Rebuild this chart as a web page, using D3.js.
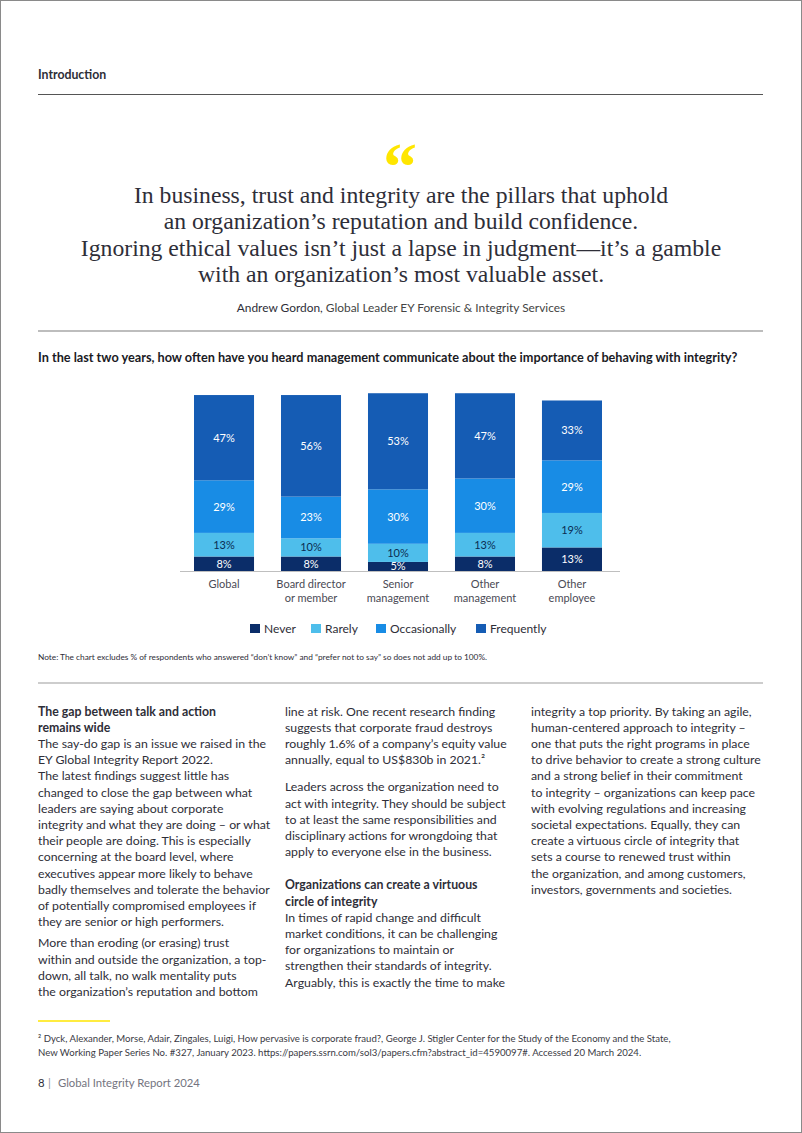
<!DOCTYPE html>
<html><head><meta charset="utf-8">
<script src="https://cdn.jsdelivr.net/npm/d3@7"></script>
<style>
html,body{margin:0;padding:0;background:#fff;}
svg{display:block;}
</style></head>
<body>
<svg id="page" width="802" height="1133"></svg>
<script>
// ---------- DATA ----------
const categories = ["Global", "Board director|or member", "Senior|management", "Other|management", "Other|employee"];
const never        = [8, 8, 5, 8, 13];
const rarely       = [13, 10, 10, 13, 19];
const occasionally = [29, 23, 30, 30, 29];
const frequently   = [47, 56, 53, 47, 33];
const seriesNames  = ["Never", "Rarely", "Occasionally", "Frequently"];
const seriesColors = ["#0b2d69", "#4ebeeb", "#188ce5", "#155cb4"];
const labelColors  = ["#ffffff", "#0b2d52", "#ffffff", "#ffffff"];

const quoteLines = [
  "In business, trust and integrity are the pillars that uphold",
  "an organization\u2019s reputation and build confidence.",
  "Ignoring ethical values isn\u2019t just a lapse in judgment\u2014it\u2019s a gamble",
  "with an organization\u2019s most valuable asset."
];
const chartTitle = "In the last two years, how often have you heard management communicate about the importance of behaving with integrity?";
const noteText = "Note: The chart excludes % of respondents who answered \u201cdon\u2019t know\u201d and \u201cprefer not to say\u201d so does not add up to 100%.";

const col1 = [
  {b:true, lines:["The gap between talk and action","remains wide"]},
  {lines:["The say-do gap is an issue we raised in the","EY Global Integrity Report 2022.","The latest findings suggest little has","changed to close the gap between what","leaders are saying about corporate","integrity and what they are doing \u2013 or what","their people are doing. This is especially","concerning at the board level, where","executives appear more likely to behave","badly themselves and tolerate the behavior","of potentially compromised employees if","they are senior or high performers."]},
  {gap:5, lines:["More than eroding (or erasing) trust","within and outside the organization, a top-","down, all talk, no walk mentality puts","the organization\u2019s reputation and bottom"]}
];
const col2 = [
  {lines:["line at risk. One recent research finding","suggests that corporate fraud destroys","roughly 1.6% of a company\u2019s equity value","annually, equal to US$830b in 2021.\u00b2"]},
  {gap:11, lines:["Leaders across the organization need to","act with integrity. They should be subject","to at least the same responsibilities and","disciplinary actions for wrongdoing that","apply to everyone else in the business."]},
  {gap:17, b:true, lines:["Organizations can create a virtuous","circle of integrity"]},
  {lines:["In times of rapid change and difficult","market conditions, it can be challenging","for organizations to maintain or","strengthen their standards of integrity.","Arguably, this is exactly the time to make"]}
];
const col3 = [
  {lines:["integrity a top priority. By taking an agile,","human-centered approach to integrity \u2013","one that puts the right programs in place","to drive behavior to create a strong culture","and a strong belief in their commitment","to integrity \u2013 organizations can keep pace","with evolving regulations and increasing","societal expectations. Equally, they can","create a virtuous circle of integrity that","sets a course to renewed trust within","the organization, and among customers,","investors, governments and societies."]}
];
const footnotes = [
  "\u00b2 Dyck, Alexander, Morse, Adair, Zingales, Luigi, How pervasive is corporate fraud?, George J. Stigler Center for the Study of the Economy and the State,",
  "New Working Paper Series No. #327, January 2023.  https://papers.ssrn.com/sol3/papers.cfm?abstract_id=4590097#. Accessed 20 March 2024."
];

// ---------- DRAW ----------
const svg = d3.select("#page");
const SANS = "Lato, 'Liberation Sans', Arial, sans-serif";
const SERIF = "'Liberation Serif', 'DejaVu Serif', serif";

svg.append("rect").attr("x",0.5).attr("y",0.5).attr("width",801).attr("height",1132)
  .attr("fill","#fff").attr("stroke","#8a8a8a").attr("stroke-width",1);

// header
svg.append("text").attr("x",38).attr("y",79).attr("font-family",SANS).attr("font-weight",700)
  .attr("font-size",12.3).attr("fill","#2e2e38").text("Introduction");
svg.append("line").attr("x1",38).attr("x2",763).attr("y1",94.5).attr("y2",94.5).attr("stroke","#555").attr("stroke-width",1.2);

// quote
svg.append("text").attr("x",400).attr("y",190).attr("text-anchor","middle").attr("font-family",SERIF)
  .attr("font-size",68).attr("font-weight",700).attr("fill","#ffe600").text("\u201c");
svg.append("g").selectAll("text").data(quoteLines).join("text")
  .attr("x",401).attr("y",(d,i)=>202.5 + i*26.5).attr("text-anchor","middle")
  .attr("font-family",SERIF).attr("font-size",23.7).attr("fill","#2e2e38").text(d=>d);
const attr = svg.append("text").attr("x",401).attr("y",312).attr("text-anchor","middle")
  .attr("font-family",SANS).attr("font-size",11.9).attr("fill","#2e2e38");
attr.append("tspan").text("Andrew Gordon, ");
attr.append("tspan").attr("fill","#444").text("Global Leader EY Forensic & Integrity Services");
svg.append("line").attr("x1",38).attr("x2",763).attr("y1",331).attr("y2",331).attr("stroke","#bdbdbd").attr("stroke-width",2);

// chart title
svg.append("text").attr("x",38).attr("y",362).attr("font-family",SANS).attr("font-weight",700)
  .attr("font-size",12.7).attr("fill","#1a1a24").text(chartTitle);

// chart
const x = d3.scaleBand().domain(categories).range([194, 602]).paddingInner(0.31).paddingOuter(0);
const y = d3.scaleLinear().domain([0, 100]).range([571, 571 - 181.4]);
const seriesData = [never, rarely, occasionally, frequently];
const rows = categories.map((c,i)=>{const o={cat:c}; seriesNames.forEach((s,j)=>o[s]=seriesData[j][i]); return o;});
const stacked = d3.stack().keys(seriesNames)(rows);

const gBars = svg.append("g");
stacked.forEach((layer, j)=>{
  const g = gBars.append("g");
  g.selectAll("rect").data(layer).join("rect")
    .attr("x", d=>x(d.data.cat)).attr("width", x.bandwidth())
    .attr("y", d=>y(d[1])).attr("height", d=>y(d[0]) - y(d[1]))
    .attr("fill", seriesColors[j]);
  g.selectAll("text").data(layer).join("text")
    .attr("x", d=>x(d.data.cat) + x.bandwidth()/2)
    .attr("y", d=>(y(d[0]) + y(d[1]))/2 + 4)
    .attr("text-anchor","middle").attr("font-family",SANS).attr("font-size",11)
    .attr("fill", labelColors[j]).text(d=>(d[1]-d[0]) + "%");
});
svg.append("line").attr("x1",180).attr("x2",620).attr("y1",571.5).attr("y2",571.5).attr("stroke","#bfbfbf").attr("stroke-width",1);

const xAxis = d3.axisBottom(x).tickSize(0).tickFormat(()=>"");
const gx = svg.append("g").attr("transform","translate(0,571)").call(xAxis);
gx.select(".domain").remove();
gx.selectAll(".tick").each(function(d){
  const t = d3.select(this).append("text").attr("font-family",SANS).attr("font-size",11)
    .attr("fill","#4a4a55").attr("text-anchor","middle");
  d.split("|").forEach((s,i)=>t.append("tspan").attr("x",0).attr("y",17 + i*13.5).text(s));
});

// legend
const legX = [250, 311, 376, 476];
const leg = svg.append("g");
seriesNames.forEach((s,i)=>{
  leg.append("rect").attr("x",legX[i]).attr("y",624).attr("width",10).attr("height",9).attr("fill",seriesColors[i]);
  leg.append("text").attr("x",legX[i]+14).attr("y",633).attr("font-family",SANS).attr("font-size",12)
    .attr("fill","#2e2e38").text(s);
});

// note
svg.append("text").attr("x",38).attr("y",660).attr("font-family",SANS).attr("font-size",8.3)
  .attr("fill","#2e2e38").text(noteText);
svg.append("line").attr("x1",38).attr("x2",763).attr("y1",683).attr("y2",683).attr("stroke","#bdbdbd").attr("stroke-width",1.5);

// body columns
function drawCol(col, x0, y0){
  let yy = y0;
  const lh = 16.2;
  col.forEach((p,pi)=>{
    if (p.gap) yy += p.gap;
    p.lines.forEach(l=>{
      svg.append("text").attr("x",x0).attr("y",yy).attr("font-family",SANS)
        .attr("font-size",12.3).attr("font-weight",p.b?700:400).attr("fill","#2e2e38").text(l);
      yy += lh;
    });
  });
}
drawCol(col1, 38, 715.5);
drawCol(col2, 285, 715.5);
drawCol(col3, 531, 715.5);

// footnote
svg.append("line").attr("x1",38).attr("x2",110).attr("y1",1021).attr("y2",1021).attr("stroke","#ffe600").attr("stroke-width",1.5);
svg.append("g").selectAll("text").data(footnotes).join("text")
  .attr("x",38).attr("y",(d,i)=>1042 + i*14).attr("font-family",SANS).attr("font-size",9.6)
  .attr("fill","#3a3a44").text(d=>d);

// footer
svg.append("text").attr("x",38).attr("y",1087).attr("font-family",SANS).attr("font-size",11.3)
  .attr("fill","#2e2e38").text("8");
svg.append("text").attr("x",48).attr("y",1087).attr("font-family",SANS).attr("font-size",11.3)
  .attr("fill","#9a9aa4").text("|");
svg.append("text").attr("x",58).attr("y",1087).attr("font-family",SANS).attr("font-size",11.3)
  .attr("fill","#747480").text("Global Integrity Report 2024");
</script>
</body></html>
